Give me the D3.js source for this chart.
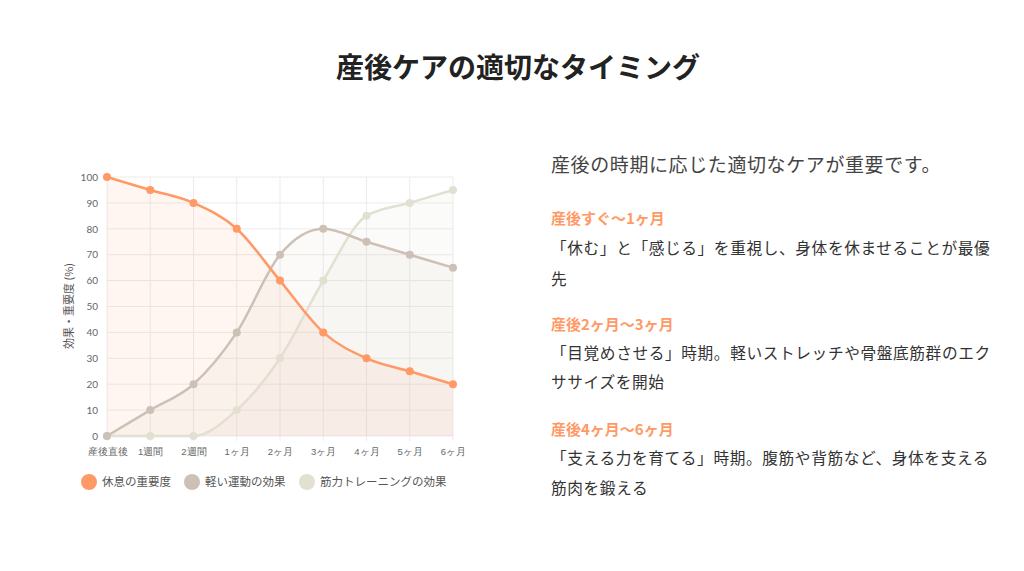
<!DOCTYPE html>
<html><head><meta charset="utf-8">
<script src="https://cdn.jsdelivr.net/npm/d3@7"></script>
<style>
body{margin:0;width:1024px;height:571px;background:#fff;font-family:"Noto Sans CJK JP","Noto Sans",sans-serif;}
</style></head><body>
<svg id="c" width="1024" height="571"></svg>
<script>
const labels = ["産後直後","1週間","2週間","1ヶ月","2ヶ月","3ヶ月","4ヶ月","5ヶ月","6ヶ月"];
const rest = [100,95,90,80,60,40,30,25,20];
const light = [0,10,20,40,70,80,75,70,65];
const strength = [0,0,0,10,30,60,85,90,95];
const yTicks = [0,10,20,30,40,50,60,70,80,90,100];

const series = [
  {name:"休息の重要度", values:rest, color:"#FF9966", fill:"rgba(255,153,102,0.09)", w:2.5},
  {name:"軽い運動の効果", values:light, color:"#CDC1B7", fill:"rgba(205,193,183,0.08)", w:2.5},
  {name:"筋力トレーニングの効果", values:strength, color:"#E2E0D0", fill:"rgba(226,224,208,0.12)", w:2.5}
];

const svg = d3.select("#c");
svg.append("text").attr("x",518).attr("y",78).attr("text-anchor","middle")
  .attr("font-size",28).attr("font-weight","bold").attr("fill","#222").text("産後ケアの適切なタイミング");

const x = d3.scalePoint().domain(labels).range([107,453]);
const y = d3.scaleLinear().domain([0,100]).range([436,177]);
const g = svg.append("g");

g.selectAll(".gy").data(yTicks).join("line")
  .attr("x1",107).attr("x2",453).attr("y1",d=>y(d)).attr("y2",d=>y(d)).attr("stroke","#ebebeb");
g.selectAll(".gx").data(labels).join("line")
  .attr("x1",d=>x(d)).attr("x2",d=>x(d)).attr("y1",177).attr("y2",441).attr("stroke","#ebebeb");

const yAxis = g.append("g").attr("transform","translate(100,0)")
  .call(d3.axisLeft(y).tickValues(yTicks).tickSize(0).tickPadding(2));
yAxis.select(".domain").remove();
yAxis.selectAll("text").attr("font-size",10).attr("fill","#666").attr("font-family","Lato,sans-serif");
const xAxis = g.append("g").attr("transform","translate(0,446)")
  .call(d3.axisBottom(x).tickSize(0).tickPadding(2));
xAxis.select(".domain").remove();
xAxis.selectAll("text").attr("font-size",9.5).attr("fill","#666");

svg.append("text").attr("transform","translate(73,306) rotate(-90)").attr("text-anchor","middle")
  .attr("font-size",11).attr("fill","#555").text("効果・重要度 (%)");

const area = d3.area().x((d,i)=>x(labels[i])).y0(y(0)).y1(d=>y(d)).curve(d3.curveMonotoneX);
const line = d3.line().x((d,i)=>x(labels[i])).y(d=>y(d)).curve(d3.curveMonotoneX);
series.slice().reverse().forEach(s=>{
  g.append("path").attr("d",area(s.values)).attr("fill",s.fill);
});
series.slice().reverse().forEach(s=>{
  g.append("path").attr("d",line(s.values)).attr("fill","none").attr("stroke",s.color).attr("stroke-width",s.w);
  g.selectAll(null).data(s.values).join("circle")
    .attr("cx",(d,i)=>x(labels[i])).attr("cy",d=>y(d)).attr("r",4).attr("fill",s.color);
});

const legX = [89,192,307];
series.forEach((s,i)=>{
  svg.append("circle").attr("cx",legX[i]).attr("cy",482).attr("r",8).attr("fill",s.color);
  svg.append("text").attr("x",legX[i]+13).attr("y",486).attr("font-size",11.5).attr("fill","#555").text(s.name);
});

const right = [
  {t:"産後の時期に応じた適切なケアが重要です。",y:172,s:19,c:"#444",b:false},
  {t:"産後すぐ〜1ヶ月",y:224,s:15,c:"#FF9966",b:true},
  {t:"「休む」と「感じる」を重視し、身体を休ませることが最優",y:254,s:15.7,c:"#333",b:false},
  {t:"先",y:285,s:15.7,c:"#333",b:false},
  {t:"産後2ヶ月〜3ヶ月",y:330,s:15,c:"#FF9966",b:true},
  {t:"「目覚めさせる」時期。軽いストレッチや骨盤底筋群のエク",y:359,s:15.7,c:"#333",b:false},
  {t:"ササイズを開始",y:388,s:15.7,c:"#333",b:false},
  {t:"産後4ヶ月〜6ヶ月",y:435,s:15,c:"#FF9966",b:true},
  {t:"「支える力を育てる」時期。腹筋や背筋など、身体を支える",y:464,s:15.7,c:"#333",b:false},
  {t:"筋肉を鍛える",y:494,s:15.7,c:"#333",b:false}
];
svg.selectAll(".rt").data(right).join("text").attr("x",551).attr("y",d=>d.y)
  .attr("font-size",d=>d.s).attr("fill",d=>d.c).attr("font-weight",d=>d.b?"bold":"normal")
  .attr("letter-spacing",d=>d.b?0:0.6).text(d=>d.t);
</script></body></html>
